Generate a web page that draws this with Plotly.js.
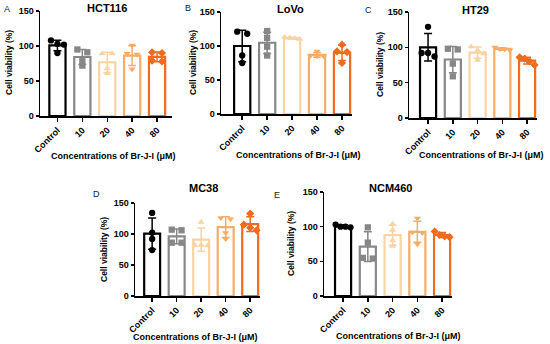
<!DOCTYPE html>
<html>
<head>
<meta charset="utf-8">
<script src="https://cdn.plot.ly/plotly-3.0.1.min.js"></script>
<style>html,body{margin:0;padding:0;background:#fff;}#chart{width:550px;height:344px;}</style>
</head>
<body>
<div id="chart"></div>
<script>
// ---- data (cell viability %, four replicates per group) ----
const categories = ['Control', '10', '20', '40', '80'];
const panelTitles = ['HCT116', 'LoVo', 'HT29', 'MC38', 'NCM460'];
const panelLetters = ['A', 'B', 'C', 'D', 'E'];
const yTicks = [0, 50, 100, 150];
const xAxisTitle = 'Concentrations of Br-J-I (μM)';
const yAxisTitle = 'Cell viability (%)';

const hct116 = [[108, 103, 102, 90], [95, 91, 79, 72], [89, 89, 68, 61], [101, 89, 88, 67], [91, 90, 79, 78]];
const lovo   = [[121, 118, 86, 75], [122, 112, 99, 86], [113, 112, 111, 110], [92, 86, 85, 85], [102, 92, 91, 75]];
const ht29   = [[129, 92, 92, 87], [98, 97, 77, 59], [101, 96, 91, 82], [100, 98, 97, 96], [86, 84, 80, 75]];
const mc38   = [[134, 102, 92, 74], [107, 106, 86, 86], [119, 82, 82, 81], [126, 124, 102, 92], [133, 115, 110, 106]];
const ncm460 = [[103, 100, 100, 99], [99, 77, 54, 55], [104, 95, 80, 72], [112, 92, 91, 75], [93, 88, 86, 85]];

// ---- styles ----
const colors = ['#000000', '#878787', '#F9D3A4', '#F8AC64', '#F26A1D'];
const symbols = ['circle', 'square', 'triangle-up', 'triangle-down', 'diamond'];
const FONT = 'Liberation Sans, Arial, sans-serif';
const W = 550, H = 344;
const px = x => x / W;
const py = y => 1 - y / H;

// panel placement in pixels: [left, right], [top, bottom], category range
const panels = [
  { data: hct116, xd: [40, 172], yd: [11, 116], range: [-0.7, 4.6], title: [107, 8], letter: [7, 9], xt: [113, 156], yt: [9, 63] },
  { data: lovo,   xd: [221, 352], yd: [12, 114], range: [-0.85, 4.4], title: [290, 9], letter: [188, 8], xt: [299, 155], yt: [193, 63] },
  { data: ht29,   xd: [409, 537], yd: [12, 118], range: [-0.77, 4.4], title: [475, 10], letter: [368, 10], xt: [481, 155], yt: [380, 65] },
  { data: mc38,   xd: [135, 260], yd: [203, 296], range: [-0.7, 4.4], title: [203, 188], letter: [96, 194], xt: [195, 337], yt: [104, 250] },
  { data: ncm460, xd: [324, 452], yd: [192, 296], range: [-0.77, 4.4], title: [390, 188], letter: [277, 195], xt: [398, 336], yt: [291, 244] }
];

function mean(a) { return a.reduce((s, v) => s + v, 0) / a.length; }
function sd(a) { const m = mean(a); return Math.sqrt(a.reduce((s, v) => s + (v - m) * (v - m), 0) / (a.length - 1)); }

// spread points with similar values horizontally (like a column scatter)
function spread(vals) {
  const idx = vals.map((v, i) => i).sort((a, b) => vals[b] - vals[a]);
  const off = new Array(vals.length).fill(0);
  let groups = [], cur = [idx[0]];
  for (let k = 1; k < idx.length; k++) {
    if (Math.abs(vals[idx[k]] - vals[cur[cur.length - 1]]) < 6) cur.push(idx[k]);
    else { groups.push(cur); cur = [idx[k]]; }
  }
  groups.push(cur);
  const pat = { 1: [0], 2: [-0.2, 0.2], 3: [-0.26, 0, 0.26], 4: [-0.3, -0.1, 0.1, 0.3] };
  groups.forEach(g => g.forEach((id, j) => { off[id] = pat[g.length][j]; }));
  return off;
}

const traces = [];
const layout = {
  width: W, height: H,
  margin: { l: 0, r: 0, t: 0, b: 0 },
  paper_bgcolor: '#ffffff', plot_bgcolor: 'rgba(0,0,0,0)',
  showlegend: false, barmode: 'overlay',
  font: { family: FONT, color: '#000' },
  annotations: []
};

panels.forEach((p, pi) => {
  const n = pi === 0 ? '' : String(pi + 1);
  const xa = 'x' + n, ya = 'y' + n;
  p.data.forEach((vals, ci) => {
    traces.push({
      type: 'bar', x: [ci], y: [mean(vals)], width: 0.65,
      xaxis: xa, yaxis: ya,
      marker: { color: 'rgba(255,255,255,0)', line: { color: colors[ci], width: 2.2 } },
      error_y: { type: 'data', array: [sd(vals)], visible: true, color: colors[ci], thickness: 1.5, width: 4 },
      hoverinfo: 'skip'
    });
    const off = spread(vals);
    traces.push({
      type: 'scatter', mode: 'markers',
      x: vals.map((v, k) => ci + off[k]), y: vals,
      xaxis: xa, yaxis: ya, cliponaxis: false,
      marker: { symbol: symbols[ci], size: 6.3, color: colors[ci] },
      hoverinfo: 'skip'
    });
  });
  const common = {
    showline: true, linecolor: '#000', linewidth: 1.5, showgrid: false, zeroline: false,
    ticks: 'outside', tickcolor: '#000', tickwidth: 1.5, ticklen: 4,
    tickfont: { family: FONT, size: 9, weight: 'bold', color: '#000' }, fixedrange: true
  };
  layout['xaxis' + n] = Object.assign({}, common, {
    domain: [px(p.xd[0]), px(p.xd[1])], range: p.range, anchor: ya,
    tickmode: 'array', tickvals: categories.map((c, i) => i), ticktext: categories, tickangle: -45
  });
  layout['yaxis' + n] = Object.assign({}, common, {
    domain: [py(p.yd[1]), py(p.yd[0])], range: [0, 150], anchor: xa,
    tickmode: 'array', tickvals: yTicks, ticklen: 3
  });
  layout.annotations.push(
    { text: panelTitles[pi], x: px(p.title[0]), y: py(p.title[1]), xref: 'paper', yref: 'paper', xanchor: 'center', yanchor: 'middle', showarrow: false, font: { family: FONT, size: 11, weight: 'bold', color: '#000' } },
    { text: panelLetters[pi], x: px(p.letter[0]), y: py(p.letter[1]), xref: 'paper', yref: 'paper', xanchor: 'center', yanchor: 'middle', showarrow: false, font: { family: FONT, size: 9, color: '#222' } },
    { text: xAxisTitle, x: px(p.xt[0]), y: py(p.xt[1]), xref: 'paper', yref: 'paper', xanchor: 'center', yanchor: 'middle', showarrow: false, font: { family: FONT, size: 9, weight: 'bold', color: '#000' } },
    { text: yAxisTitle, x: px(p.yt[0]), y: py(p.yt[1]), xref: 'paper', yref: 'paper', xanchor: 'center', yanchor: 'middle', textangle: -90, showarrow: false, font: { family: FONT, size: 8.5, weight: 'bold', color: '#000' } }
  );
});

Plotly.newPlot('chart', traces, layout, { staticPlot: true, displayModeBar: false });
</script>
</body>
</html>
